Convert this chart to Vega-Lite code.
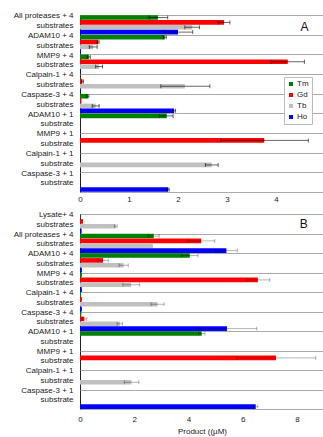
{
  "$schema": "https://vega.github.io/schema/vega-lite/v6.json",
  "padding": {"left": 10, "top": 10, "right": 0, "bottom": 0},
  "spacing": 5,
  "config": {
    "font": "Liberation Sans",
    "view": {"stroke": "#222", "strokeWidth": 1},
    "axis": {"labelFontSize": 8, "labelColor": "#222", "titleFontSize": 8, "titleFontWeight": "normal", "titleColor": "#222"}
  },
  "datasets": {
    "A": [
      {"c": "All proteases + 4|substrates", "m": "Tm", "v": 1.59, "lo": 1.41, "hi": 1.79},
      {"c": "All proteases + 4|substrates", "m": "Gd", "v": 2.94, "lo": 2.82, "hi": 3.06},
      {"c": "All proteases + 4|substrates", "m": "Tb", "v": 2.29, "lo": 2.14, "hi": 2.44},
      {"c": "All proteases + 4|substrates", "m": "Ho", "v": 2.0, "lo": 1.7, "hi": 2.3},
      {"c": "ADAM10 + 4|substrates", "m": "Tm", "v": 1.73, "lo": 1.7, "hi": 1.76},
      {"c": "ADAM10 + 4|substrates", "m": "Gd", "v": 0.37, "lo": 0.35, "hi": 0.39},
      {"c": "ADAM10 + 4|substrates", "m": "Tb", "v": 0.27, "lo": 0.19, "hi": 0.35},
      {"c": "ADAM10 + 4|substrates", "m": "Ho", "v": 0.02},
      {"c": "MMP9 + 4|substrates", "m": "Tm", "v": 0.18, "lo": 0.15, "hi": 0.21},
      {"c": "MMP9 + 4|substrates", "m": "Gd", "v": 4.24, "lo": 3.9, "hi": 4.58},
      {"c": "MMP9 + 4|substrates", "m": "Tb", "v": 0.39, "lo": 0.32, "hi": 0.46},
      {"c": "MMP9 + 4|substrates", "m": "Ho", "v": 0.02},
      {"c": "Calpain-1 + 4|substrates", "m": "Tm", "v": 0.01},
      {"c": "Calpain-1 + 4|substrates", "m": "Gd", "v": 0.05, "lo": 0.03, "hi": 0.07},
      {"c": "Calpain-1 + 4|substrates", "m": "Tb", "v": 2.14, "lo": 1.65, "hi": 2.65},
      {"c": "Calpain-1 + 4|substrates", "m": "Ho", "v": 0.01},
      {"c": "Caspase-3 + 4|substrates", "m": "Tm", "v": 0.16, "lo": 0.14, "hi": 0.18},
      {"c": "Caspase-3 + 4|substrates", "m": "Gd", "v": 0.03},
      {"c": "Caspase-3 + 4|substrates", "m": "Tb", "v": 0.32, "lo": 0.25, "hi": 0.39},
      {"c": "Caspase-3 + 4|substrates", "m": "Ho", "v": 1.92, "lo": 1.89, "hi": 1.95},
      {"c": "ADAM10 + 1|substrate", "m": "Tm", "v": 1.77, "lo": 1.62, "hi": 1.9},
      {"c": "MMP9 + 1|substrate", "m": "Gd", "v": 3.76, "lo": 2.87, "hi": 4.66},
      {"c": "Calpain-1 + 1|substrate", "m": "Tb", "v": 2.69, "lo": 2.56, "hi": 2.82},
      {"c": "Caspase-3 + 1|substrate", "m": "Ho", "v": 1.8, "lo": 1.78, "hi": 1.82}
    ],
    "B": [
      {"c": "Lysate+ 4|substrates", "m": "Tm", "v": 0.02},
      {"c": "Lysate+ 4|substrates", "m": "Gd", "v": 0.11},
      {"c": "Lysate+ 4|substrates", "m": "Tb", "v": 1.32, "lo": 1.27, "hi": 1.37},
      {"c": "Lysate+ 4|substrates", "m": "Ho", "v": 0.06},
      {"c": "All proteases + 4|substrates", "m": "Tm", "v": 2.72, "lo": 2.52, "hi": 2.92},
      {"c": "All proteases + 4|substrates", "m": "Gd", "v": 4.47, "lo": 3.97, "hi": 4.97},
      {"c": "All proteases + 4|substrates", "m": "Tb", "v": 2.69},
      {"c": "All proteases + 4|substrates", "m": "Ho", "v": 5.4, "lo": 5.0, "hi": 5.8},
      {"c": "ADAM10 + 4|substrates", "m": "Tm", "v": 4.05, "lo": 3.75, "hi": 4.35},
      {"c": "ADAM10 + 4|substrates", "m": "Gd", "v": 0.85, "lo": 0.66, "hi": 1.04},
      {"c": "ADAM10 + 4|substrates", "m": "Tb", "v": 1.61, "lo": 1.44, "hi": 1.78},
      {"c": "ADAM10 + 4|substrates", "m": "Ho", "v": 0.07},
      {"c": "MMP9 + 4|substrates", "m": "Tm", "v": 0.07},
      {"c": "MMP9 + 4|substrates", "m": "Gd", "v": 6.56, "lo": 6.13, "hi": 7.0},
      {"c": "MMP9 + 4|substrates", "m": "Tb", "v": 1.88, "lo": 1.58, "hi": 2.2},
      {"c": "MMP9 + 4|substrates", "m": "Ho", "v": 0.07},
      {"c": "Calpain-1 + 4|substrates", "m": "Tm", "v": 0.04},
      {"c": "Calpain-1 + 4|substrates", "m": "Gd", "v": 0.07},
      {"c": "Calpain-1 + 4|substrates", "m": "Tb", "v": 2.86, "lo": 2.62, "hi": 3.1},
      {"c": "Calpain-1 + 4|substrates", "m": "Ho", "v": 0.07},
      {"c": "Caspase-3 + 4|substrates", "m": "Tm", "v": 0.05},
      {"c": "Caspase-3 + 4|substrates", "m": "Gd", "v": 0.16, "lo": 0.07, "hi": 0.25},
      {"c": "Caspase-3 + 4|substrates", "m": "Tb", "v": 1.47, "lo": 1.37, "hi": 1.57},
      {"c": "Caspase-3 + 4|substrates", "m": "Ho", "v": 5.42, "lo": 4.32, "hi": 6.52},
      {"c": "ADAM10 + 1|substrate", "m": "Tm", "v": 4.49, "lo": 4.37, "hi": 4.61},
      {"c": "MMP9 + 1|substrate", "m": "Gd", "v": 7.23, "lo": 5.76, "hi": 8.7},
      {"c": "Calpain-1 + 1|substrate", "m": "Tb", "v": 1.9, "lo": 1.63, "hi": 2.17},
      {"c": "Caspase-3 + 1|substrate", "m": "Ho", "v": 6.48, "lo": 6.4, "hi": 6.56}
    ],
    "labA": [{"t": "A", "x": 4.58, "c": "All proteases + 4|substrates"}],
    "labB": [{"t": "B", "x": 8.25, "c": "Lysate+ 4|substrates"}]
  },
  "vconcat": [
    {
      "width": 245,
      "height": 177,
      "encoding": {
        "y": {"field": "c", "type": "nominal", "sort": ["All proteases + 4|substrates", "ADAM10 + 4|substrates", "MMP9 + 4|substrates", "Calpain-1 + 4|substrates", "Caspase-3 + 4|substrates", "ADAM10 + 1|substrate", "MMP9 + 1|substrate", "Calpain-1 + 1|substrate", "Caspase-3 + 1|substrate"],
          "scale": {"paddingInner": 0, "paddingOuter": 0},
          "axis": {"title": null, "ticks": false, "domain": false, "grid": true, "gridColor": "#aaa", "tickBand": "extent", "labelExpr": "split(datum.label, '|')", "labelLineHeight": 9.5, "labelOffset": -9, "labelPadding": 7, "minExtent": 68, "maxExtent": 68}}
      },
      "layer": [
        {
          "data": {"name": "A"},
          "mark": {"type": "bar"},
          "encoding": {
            "x": {"field": "v", "type": "quantitative", "scale": {"domain": [0, 5], "nice": false}, "axis": {"title": null, "values": [0, 1, 2, 3, 4, 5], "ticks": false, "domain": false, "grid": false, "labelPadding": 3, "labelFlush": false}},
            "yOffset": {"field": "m", "type": "nominal", "scale": {"domain": ["Tm", "Gd", "Tb", "Ho"], "paddingInner": 0.05, "paddingOuter": 0.05}},
            "color": {"field": "m", "type": "nominal", "scale": {"domain": ["Tm", "Gd", "Tb", "Ho"], "range": ["#008000", "#ff0000", "#c0c0c0", "#0000ff"]},
              "legend": {"title": null, "orient": "none", "legendX": 204, "legendY": 62, "symbolType": "square", "symbolSize": 16, "symbolStrokeWidth": 0, "labelFontSize": 8, "labelColor": "#222", "rowPadding": 3, "padding": 3, "strokeColor": "#bbb", "fillColor": "#fff", "labelOffset": 2}}
          }
        },
        {
          "data": {"name": "A"},
          "transform": [{"filter": "isValid(datum.lo)"}],
          "mark": {"type": "rule", "color": "#000", "opacity": 0.6, "strokeWidth": 1},
          "encoding": {
            "x": {"field": "lo", "type": "quantitative"},
            "x2": {"field": "hi"},
            "yOffset": {"field": "m", "type": "nominal", "scale": {"domain": ["Tm", "Gd", "Tb", "Ho"]}}
          }
        },
        {
          "data": {"name": "A"},
          "transform": [{"filter": "isValid(datum.lo)"}, {"fold": ["lo", "hi"], "as": ["k", "e"]}],
          "mark": {"type": "tick", "color": "#000", "opacity": 0.6, "size": 4, "thickness": 1},
          "encoding": {
            "x": {"field": "e", "type": "quantitative"},
            "yOffset": {"field": "m", "type": "nominal", "scale": {"domain": ["Tm", "Gd", "Tb", "Ho"]}}
          }
        },
        {
          "data": {"name": "labA"},
          "mark": {"type": "text", "fontSize": 12, "color": "#111", "align": "center", "baseline": "middle", "dy": 2},
          "encoding": {"x": {"field": "x", "type": "quantitative"}, "text": {"field": "t"}}
        }
      ]
    },
    {
      "width": 244,
      "height": 195,
      "encoding": {
        "y": {"field": "c", "type": "nominal", "sort": ["Lysate+ 4|substrates", "All proteases + 4|substrates", "ADAM10 + 4|substrates", "MMP9 + 4|substrates", "Calpain-1 + 4|substrates", "Caspase-3 + 4|substrates", "ADAM10 + 1|substrate", "MMP9 + 1|substrate", "Calpain-1 + 1|substrate", "Caspase-3 + 1|substrate"],
          "scale": {"paddingInner": 0, "paddingOuter": 0},
          "axis": {"title": null, "ticks": false, "domain": false, "grid": true, "gridColor": "#aaa", "tickBand": "extent", "labelExpr": "split(datum.label, '|')", "labelLineHeight": 9.5, "labelOffset": -9, "labelPadding": 7, "minExtent": 69, "maxExtent": 69}}
      },
      "layer": [
        {
          "data": {"name": "B"},
          "mark": {"type": "bar"},
          "encoding": {
            "x": {"field": "v", "type": "quantitative", "scale": {"domain": [0, 9], "nice": false}, "axis": {"title": "Product ((µM)", "titlePadding": 4, "values": [0, 2, 4, 6, 8], "ticks": false, "domain": false, "grid": false, "labelPadding": 6, "labelFlush": false}},
            "yOffset": {"field": "m", "type": "nominal", "scale": {"domain": ["Tm", "Gd", "Tb", "Ho"], "paddingInner": 0.05, "paddingOuter": 0.05}},
            "color": {"field": "m", "type": "nominal", "scale": {"domain": ["Tm", "Gd", "Tb", "Ho"], "range": ["#008000", "#ff0000", "#a6a6a6", "#0000ff"]},
              "legend": {"title": null, "orient": "none", "legendX": 206, "legendY": 85, "symbolType": "square", "symbolSize": 16, "symbolStrokeWidth": 0, "labelFontSize": 8, "labelColor": "#222", "rowPadding": 2, "padding": 2, "strokeColor": "#bbb", "fillColor": "#fff", "labelOffset": 2}}
          }
        },
        {
          "data": {"name": "B"},
          "transform": [{"filter": "isValid(datum.lo)"}],
          "mark": {"type": "rule", "color": "#000", "opacity": 0.3, "strokeWidth": 1},
          "encoding": {
            "x": {"field": "lo", "type": "quantitative"},
            "x2": {"field": "hi"},
            "yOffset": {"field": "m", "type": "nominal", "scale": {"domain": ["Tm", "Gd", "Tb", "Ho"]}}
          }
        },
        {
          "data": {"name": "B"},
          "transform": [{"filter": "isValid(datum.lo)"}, {"fold": ["lo", "hi"], "as": ["k", "e"]}],
          "mark": {"type": "tick", "color": "#000", "opacity": 0.3, "size": 4, "thickness": 1},
          "encoding": {
            "x": {"field": "e", "type": "quantitative"},
            "yOffset": {"field": "m", "type": "nominal", "scale": {"domain": ["Tm", "Gd", "Tb", "Ho"]}}
          }
        },
        {
          "data": {"name": "labB"},
          "mark": {"type": "text", "fontSize": 12, "color": "#111", "align": "center", "baseline": "middle"},
          "encoding": {"x": {"field": "x", "type": "quantitative"}, "text": {"field": "t"}}
        }
      ]
    }
  ]
}
